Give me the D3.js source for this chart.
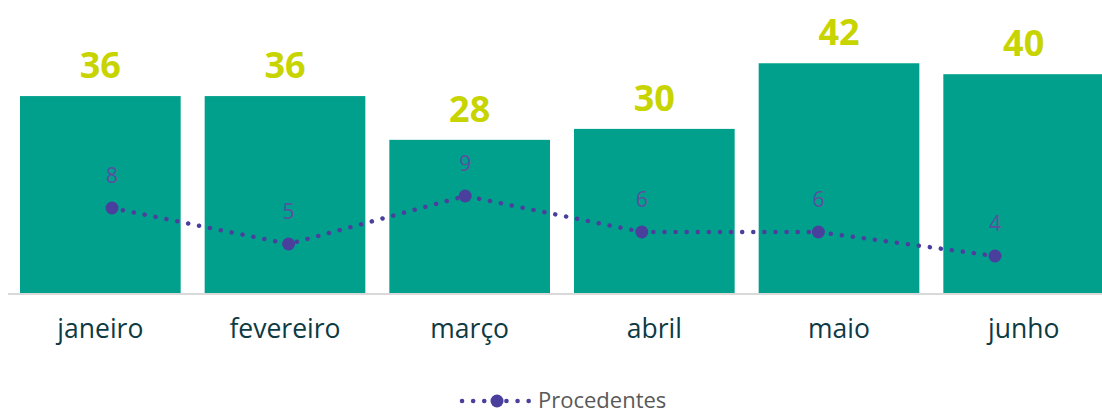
<!DOCTYPE html>
<html><head><meta charset="utf-8">
<script src="https://cdn.jsdelivr.net/npm/d3@7"></script>
<style>body{margin:0;background:#fff}svg{display:block}text{font-family:"Open Sans",sans-serif}</style>
</head><body><svg id="c" width="1102" height="410"></svg>
<script>
const categories = ["janeiro","fevereiro","março","abril","maio","junho"];
const totals = [36,36,28,30,42,40];
const procedentes = [8,5,9,6,6,4];
const seriesName = "Procedentes";

const svg = d3.select("#c");
const W = 1102, baseY = 293;
const x = d3.scaleBand().domain(categories).range([8, 1116]).paddingInner(0.13).paddingOuter(0.065);
const y = d3.scaleLinear().domain([0, 50]).range([baseY, baseY - 50*5.47]);
const x2 = d3.scalePoint().domain(categories).range([112, 995]);
const y2 = d3.scaleLinear().domain([0, 10]).range([304, 184]);

const teal = "#00a08c", lime = "#c8d400", purple = "#4b3f9e";

svg.append("g").selectAll("rect").data(categories).join("rect")
  .attr("x", d => x(d)).attr("width", x.bandwidth())
  .attr("y", (d,i) => y(totals[i])).attr("height", (d,i) => baseY - y(totals[i]))
  .attr("fill", teal);

svg.append("line").attr("x1", 8).attr("x2", W).attr("y1", baseY+1).attr("y2", baseY+1)
  .attr("stroke", "#d9d9d9").attr("stroke-width", 2);

svg.append("g").selectAll("text").data(categories).join("text")
  .attr("x", d => x(d) + x.bandwidth()/2).attr("y", (d,i) => y(totals[i]) - 18)
  .attr("text-anchor", "middle").attr("fill", lime)
  .attr("font-size", 36).attr("font-weight", "bold")
  .text((d,i) => totals[i]);

const xAxis = d3.axisBottom(x).tickSize(0).tickPadding(0);
const ax = svg.append("g").attr("transform", `translate(0,${baseY})`).call(xAxis);
ax.select(".domain").remove();
ax.selectAll("text").attr("y", 45).attr("dy", 0).attr("font-size", 26.5).attr("fill", "#0e3a43")
  .style("font-family", '"Open Sans",sans-serif');

const line = d3.line().x((d,i) => x2(categories[i])).y(d => y2(d));
svg.append("path").datum(procedentes).attr("d", line).attr("fill", "none")
  .attr("stroke", purple).attr("stroke-width", 4.5).attr("stroke-linecap", "round")
  .attr("stroke-dasharray", "0.1 11");
svg.append("g").selectAll("circle").data(procedentes).join("circle")
  .attr("cx", (d,i) => x2(categories[i])).attr("cy", d => y2(d)).attr("r", 6.5).attr("fill", purple);
svg.append("g").selectAll("text").data(procedentes).join("text")
  .attr("x", (d,i) => x2(categories[i])).attr("y", d => y2(d) - 25)
  .attr("text-anchor", "middle").attr("fill", "#5a4fa0").attr("font-size", 21)
  .text(d => d);

const lg = svg.append("g");
lg.append("line").attr("x1", 462).attr("x2", 530).attr("y1", 401).attr("y2", 401)
  .attr("stroke", purple).attr("stroke-width", 4.5).attr("stroke-linecap", "round").attr("stroke-dasharray", "0.1 11");
lg.append("circle").attr("cx", 497).attr("cy", 401).attr("r", 6.5).attr("fill", purple);
lg.append("text").attr("x", 538).attr("y", 408).attr("font-size", 22).attr("fill", "#595959").text(seriesName);
</script></body></html>
